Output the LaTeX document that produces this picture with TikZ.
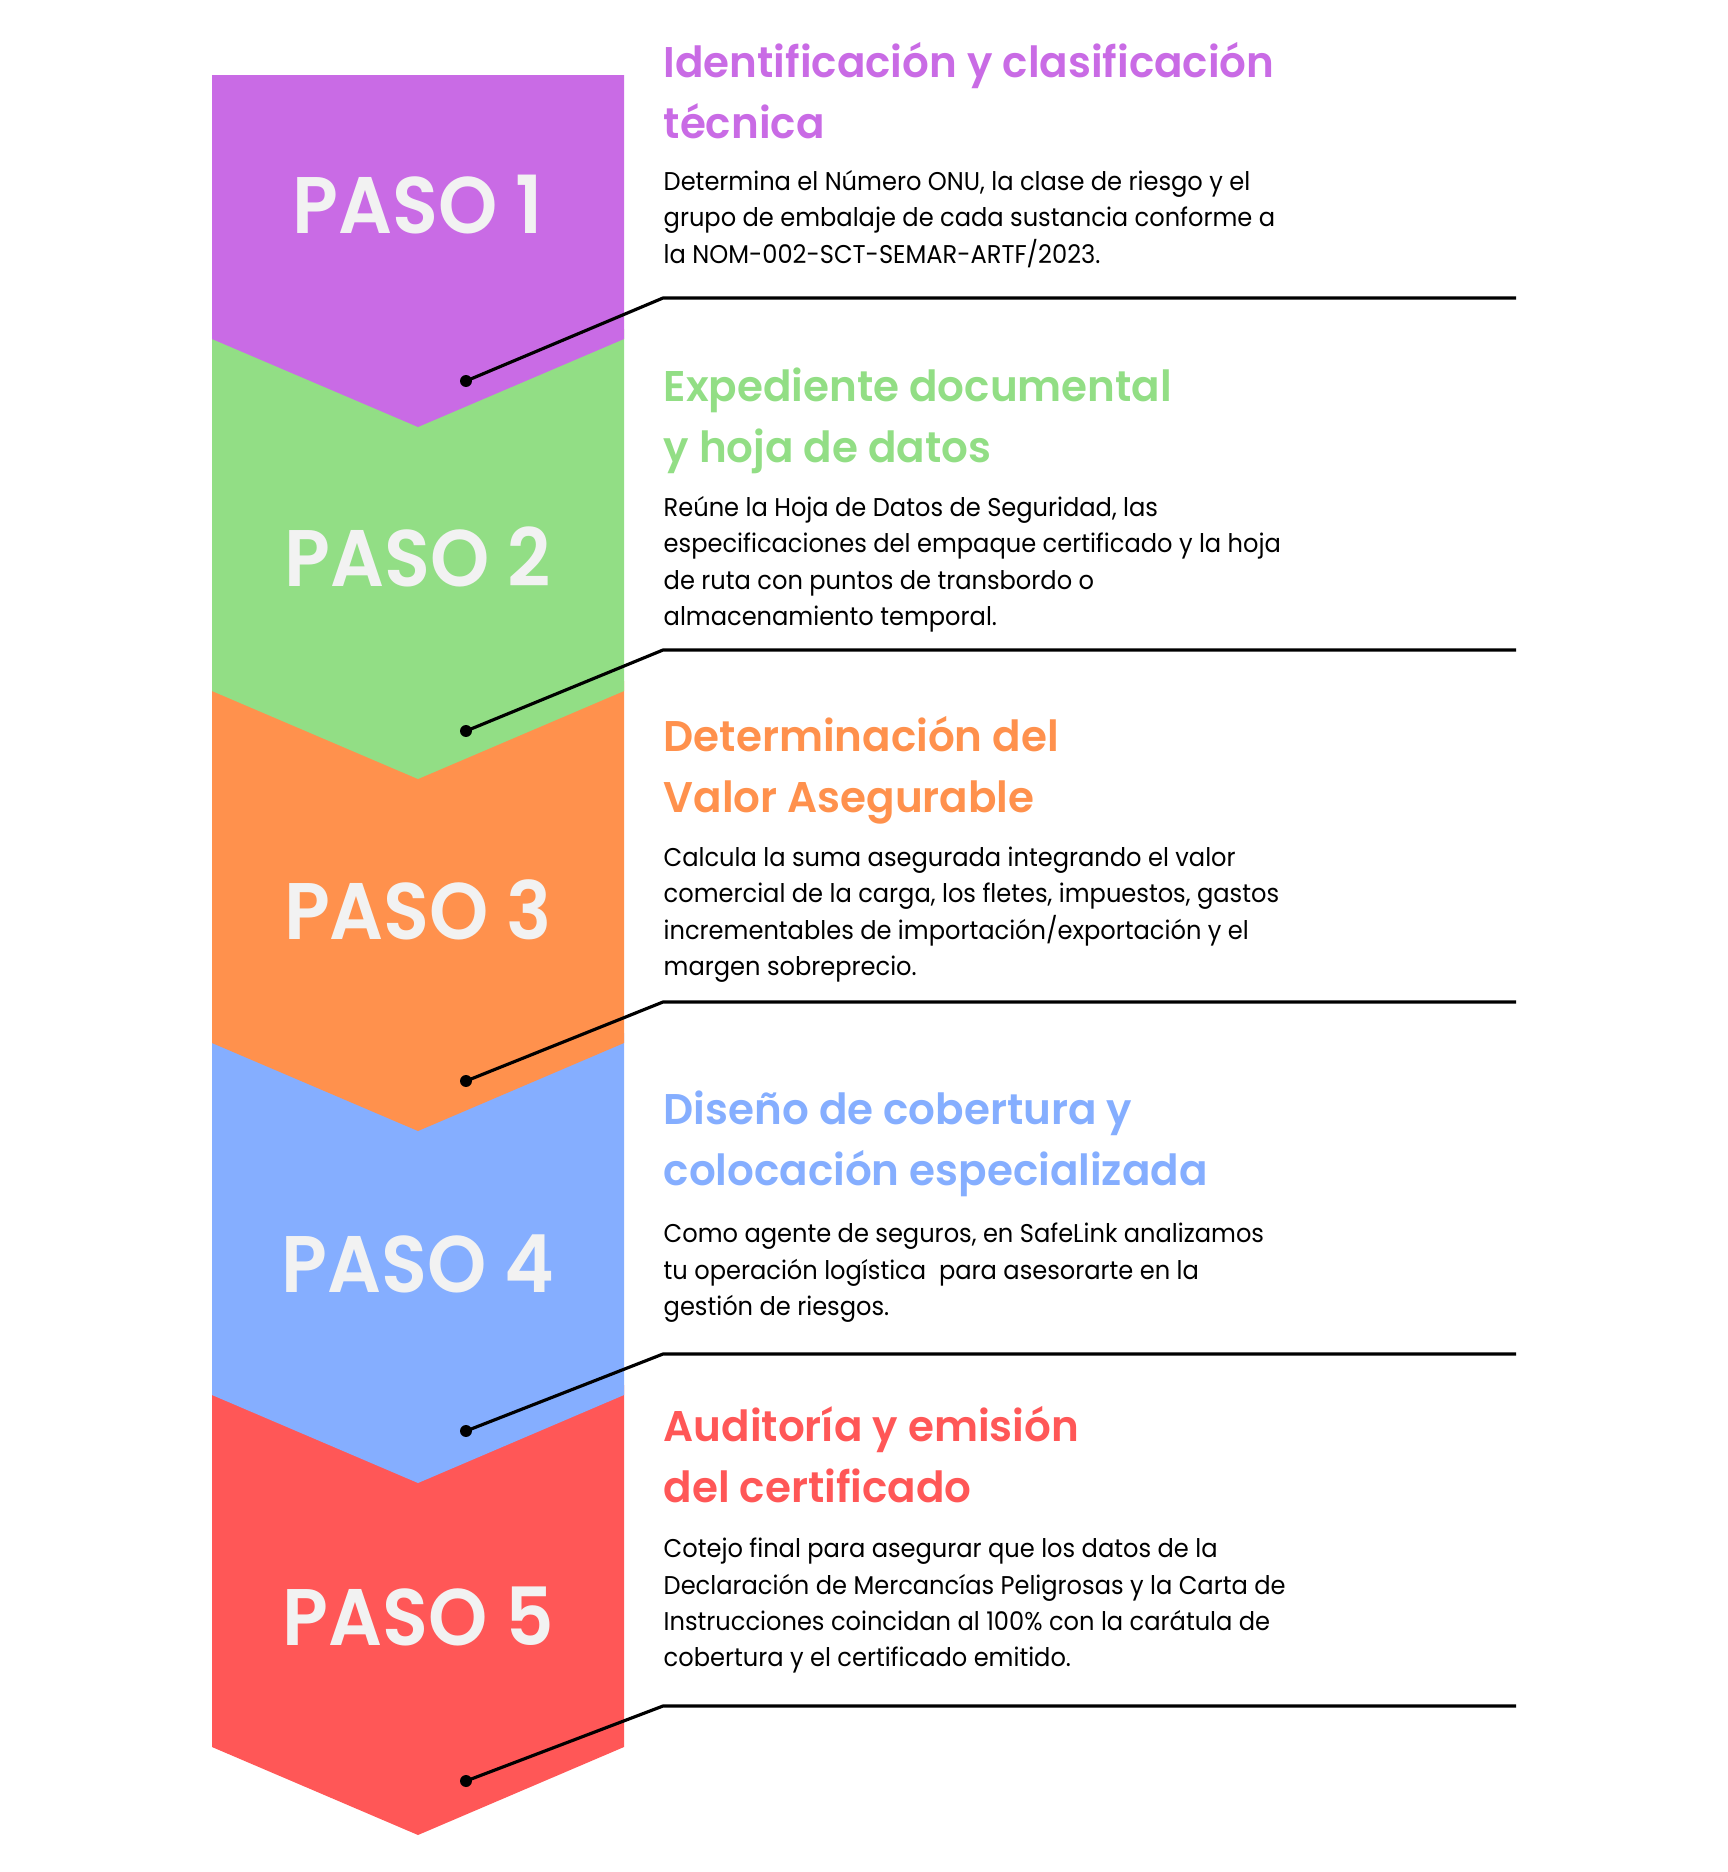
\documentclass[tikz,border=0pt]{standalone}
\usepackage{fontspec}
\setmainfont{Poppins}
\newfontfamily\cuerpofont{Poppins}[FakeStretch=0.94]
\newfontfamily\titulofont{Poppins SemiBold}[FakeStretch=0.98]
\newfontfamily\pasofont{Poppins SemiBold}[FakeStretch=0.94]
\definecolor{pasoA}{HTML}{C96BE5}
\definecolor{pasoB}{HTML}{92DE85}
\definecolor{pasoC}{HTML}{FF914D}
\definecolor{pasoD}{HTML}{85AEFF}
\definecolor{pasoE}{HTML}{FF5757}
\definecolor{pasotexto}{HTML}{F2F2F2}
\begin{document}
\begin{tikzpicture}[x=0.01cm, y=-0.01cm,
  paso/.style={anchor=base, inner sep=0pt, text=pasotexto, font=\pasofont\fontsize{22.8}{26}\selectfont},
  titulo/.style={anchor=base west, align=left, inner sep=0pt, font=\titulofont\fontsize{12.2}{17.07}\selectfont},
  cuerpo/.style={anchor=base west, align=left, inner sep=0pt, font=\cuerpofont\fontsize{7.3}{10.24}\selectfont},
  punto/.style={circle, fill=black, inner sep=0pt, minimum size=3.4pt},
  conector/.style={line width=0.9pt}]
  \useasboundingbox (0,0) rectangle (1728,1872);
  % Draw the chevrons from the last one up, so each tip covers the next step.
  \foreach \i/\col in {4/pasoE, 3/pasoD, 2/pasoC, 1/pasoB, 0/pasoA} {
    \pgfmathsetmacro\ys{339+352*\i}
    \pgfmathsetmacro\yt{ifthenelse(\i==0, 75, \ys-362)}
    \fill[\col] (212,\yt) -- (624,\yt) -- (624,\ys) -- (418,\ys+88) -- (212,\ys) -- cycle;
  }
  % Step labels inside the chevrons.
  \foreach \n in {1,...,5}
    \node[paso] (paso\n) at (418,{233+353*(\n-1)}) {PASO \n};

  % Titles and descriptions (placed at the baseline of their last line).
  \node[titulo, text=pasoA] (titulo1) at (663,138) {Identificación y clasificación\\técnica};
  \node[cuerpo] (texto1) at (663,263) {Determina el Número ONU, la clase de riesgo y el\\grupo de embalaje de cada sustancia conforme a\\la NOM-002-SCT-SEMAR-ARTF/2023.};
  \node[titulo, text=pasoB] (titulo2) at (663,462) {Expediente documental\\y hoja de datos};
  \node[cuerpo] (texto2) at (663,625) {Reúne la Hoja de Datos de Seguridad, las\\especificaciones del empaque certificado y la hoja\\de ruta con puntos de transbordo o\\almacenamiento temporal.};
  \node[titulo, text=pasoC] (titulo3) at (663,812) {Determinación del\\Valor Asegurable};
  \node[cuerpo] (texto3) at (663,975) {Calcula la suma asegurada integrando el valor\\comercial de la carga, los fletes, impuestos, gastos\\incrementables de importación/exportación y el\\margen sobreprecio.};
  \node[titulo, text=pasoD] (titulo4) at (663,1185) {Diseño de cobertura y\\colocación especializada};
  \node[cuerpo] (texto4) at (663,1315) {Como agente de seguros, en SafeLink analizamos\\tu operación logística\ \ para asesorarte en la\\gestión de riesgos.};
  \node[titulo, text=pasoE] (titulo5) at (663,1502) {Auditoría y emisión\\del certificado};
  \node[cuerpo] (texto5) at (663,1666) {Cotejo final para asegurar que los datos de la\\Declaración de Mercancías Peligrosas y la Carta de\\Instrucciones coincidan al 100\% con la carátula de\\cobertura y el certificado emitido.};

  % Connectors: dot in the tip, slanted up to the rule under each text.
  \foreach \n in {1,...,5} {
    \node[punto] (punto\n) at (466,{381+350*(\n-1)}) {};
    \coordinate (codo\n) at (663,{298+352*(\n-1)});
    \coordinate (fin\n) at (1516,{298+352*(\n-1)});
    \draw[conector] (punto\n.center) -- (codo\n) -- (fin\n);
  }
\end{tikzpicture}
\end{document}
